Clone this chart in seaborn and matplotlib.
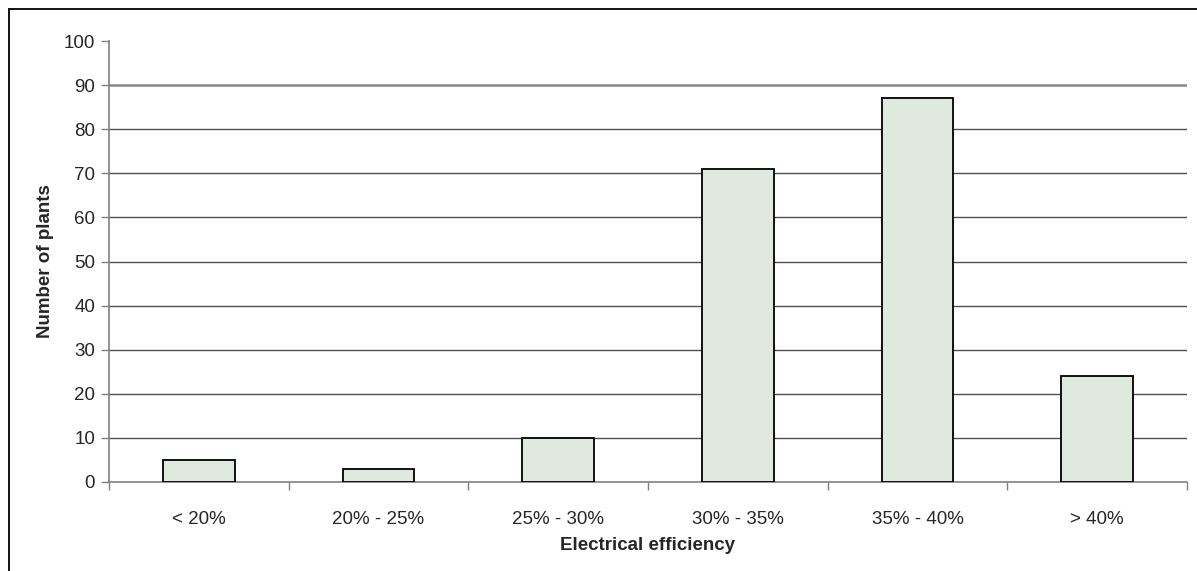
import matplotlib
matplotlib.use("Agg")
import matplotlib.pyplot as plt
import seaborn as sns
import pandas as pd
from matplotlib.lines import Line2D

categories = ["< 20%", "20% - 25%", "25% - 30%", "30% - 35%", "35% - 40%", "> 40%"]
plants = [5, 3, 10, 71, 87, 24]

df = pd.DataFrame({"efficiency": categories, "plants": plants})

sns.set_style("white")
plt.rcParams["font.family"] = ["Liberation Sans", "DejaVu Sans"]

fig = plt.figure(figsize=(11.97, 5.71), dpi=100)
ax = fig.add_axes([109 / 1197, 1 - 482 / 571, 1078 / 1197, 441 / 571])

sns.barplot(data=df, x="efficiency", y="plants", color="#e0e9e0", saturation=1,
            width=0.4, edgecolor="black", linewidth=1.3, ax=ax, zorder=3)

ax.set_ylim(0, 100)
ax.set_xlim(-0.5, len(categories) - 0.5)
ax.set_yticks(range(0, 101, 10))
for y in range(10, 100, 10):
    if y == 90:
        ax.axhline(y, color="#888888", linewidth=1.8, zorder=1)
    else:
        ax.axhline(y, color="#505050", linewidth=1, zorder=1)

# category boundary ticks
ax.set_xticks([i - 0.5 for i in range(len(categories) + 1)], minor=True)
ax.tick_params(axis="x", which="minor", length=6, width=1, color="#808080", direction="out", bottom=True)
ax.tick_params(axis="x", which="major", length=0, labelsize=13.5, pad=21)
ax.tick_params(axis="y", length=6, width=1, color="#808080", direction="out", left=True, labelsize=13.5, pad=4)

for side in ["top", "right"]:
    ax.spines[side].set_visible(False)
for side in ["left", "bottom"]:
    ax.spines[side].set_color("#808080")
    ax.spines[side].set_linewidth(1.2)

ax.set_xlabel("Electrical efficiency", fontsize=13.5, fontweight="bold", labelpad=6)
ax.set_ylabel("Number of plants", fontsize=13.5, fontweight="bold", labelpad=7)

# outer frame (top and left edges visible)
fig.add_artist(Line2D([9 / 1197, 1], [1 - 9 / 571, 1 - 9 / 571], transform=fig.transFigure, color="black", linewidth=1.3))
fig.add_artist(Line2D([9 / 1197, 9 / 1197], [0, 1 - 9 / 571], transform=fig.transFigure, color="black", linewidth=1.3))

fig.savefig("out.png", dpi=100)
